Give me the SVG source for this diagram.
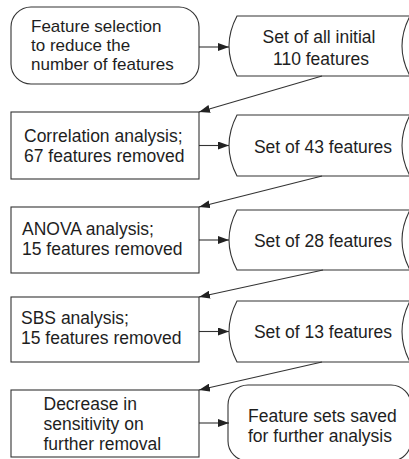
<svg xmlns="http://www.w3.org/2000/svg" width="409" height="459" viewBox="0 0 409 459">
<defs>
<marker id="ah" markerUnits="userSpaceOnUse" markerWidth="11" markerHeight="8" refX="11" refY="4" orient="auto">
<path d="M0,0 L11,4 L0,8 z" fill="#222"/>
</marker>
<style>
.box{fill:#fff;stroke:#333;stroke-width:1.1}
.t{font-family:"Liberation Sans",Arial,Helvetica,sans-serif;font-size:17.5px;fill:#1e1e1e}
.s{font-size:17px}
.m{text-anchor:middle}
.c{fill:none;stroke:#333;stroke-width:1.1;marker-end:url(#ah)}
</style>
</defs>
<rect width="409" height="459" fill="#fff"/>
<g id="start">
<rect class="box" x="11" y="7" width="188" height="77" rx="20" ry="20"/>
<text class="t s" x="31" y="31.5">Feature selection</text>
<text class="t s" x="31" y="50.5">to reduce the</text>
<text class="t s" x="31" y="69.5">number of features</text>
</g>
<g id="set110">
<path class="box" d="M237,16 L410,16 Q394,46 410,76 L237,76 Q221,46 237,16 Z"/>
<text class="t m" x="319" y="43">Set of all initial</text>
<text class="t m" x="321" y="64.5">110 features</text>
</g>
<g id="corr">
<rect class="box" x="11" y="112" width="188" height="67"/>
<text class="t" x="24" y="141.5">Correlation analysis;</text>
<text class="t" x="24" y="161.5">67 features removed</text>
</g>
<g id="set43">
<path class="box" d="M237,115 L410,115 Q394,145.5 410,176 L237,176 Q221,145.5 237,115 Z"/>
<text class="t m" x="323" y="153">Set of 43 features</text>
</g>
<g id="anova">
<rect class="box" x="11" y="207" width="188" height="66"/>
<text class="t" x="22" y="235">ANOVA analysis;</text>
<text class="t" x="22" y="255">15 features removed</text>
</g>
<g id="set28">
<path class="box" d="M237,210 L410,210 Q394,240 410,270 L237,270 Q221,240 237,210 Z"/>
<text class="t m" x="323" y="246.5">Set of 28 features</text>
</g>
<g id="sbs">
<rect class="box" x="11" y="297" width="188" height="65"/>
<text class="t" x="21" y="324">SBS analysis;</text>
<text class="t" x="21" y="344">15 features removed</text>
</g>
<g id="set13">
<path class="box" d="M237,301 L410,301 Q394,331.5 410,362 L237,362 Q221,331.5 237,301 Z"/>
<text class="t m" x="323" y="337.5">Set of 13 features</text>
</g>
<g id="decrease">
<rect class="box" x="11" y="390" width="188" height="67"/>
<text class="t" x="43.5" y="410">Decrease in</text>
<text class="t" x="43.5" y="430">sensitivity on</text>
<text class="t" x="43.5" y="450">further removal</text>
</g>
<g id="saved">
<rect class="box" x="228" y="385" width="183" height="76" rx="20" ry="20"/>
<text class="t" x="248" y="421.5">Feature sets saved</text>
<text class="t" x="248" y="441.5">for further analysis</text>
</g>
<g id="connectors">
<line class="c" x1="199" y1="47" x2="229" y2="47"/>
<line class="c" x1="322" y1="76" x2="199" y2="112"/>
<line class="c" x1="199" y1="145.5" x2="229" y2="145.5"/>
<line class="c" x1="322" y1="176" x2="199" y2="207"/>
<line class="c" x1="199" y1="240" x2="229" y2="240"/>
<line class="c" x1="323" y1="270" x2="199" y2="297"/>
<line class="c" x1="199" y1="331.5" x2="229" y2="331.5"/>
<line class="c" x1="322" y1="362" x2="199" y2="390"/>
<line class="c" x1="199" y1="423" x2="229" y2="423"/>
</g>
</svg>
